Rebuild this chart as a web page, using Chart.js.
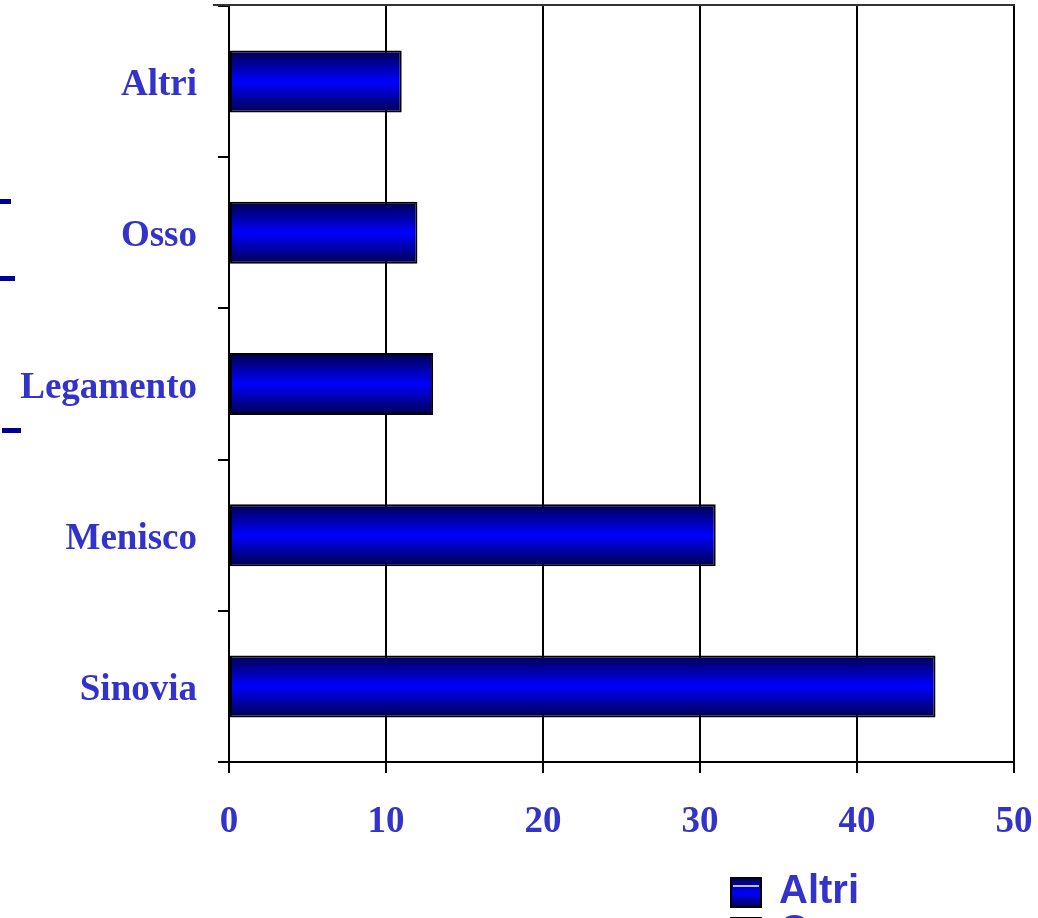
<!DOCTYPE html>
<html>
<head>
<meta charset="utf-8">
<script src="https://cdn.jsdelivr.net/npm/chart.js@4"></script>
<style>
  html, body { margin: 0; padding: 0; background: #ffffff; }
  #c { display: block; }
</style>
</head>
<body>
<canvas id="c" width="1038" height="918"></canvas>
<script>
// Sede della lesione (ordine dall'alto verso il basso)
const categories = ['Altri', 'Osso', 'Legamento', 'Menisco', 'Sinovia'];
const values = [11, 12, 13, 31, 45];
const xTickValues = [0, 10, 20, 30, 40, 50];
const legendLabels = ['Altri', 'Osso'];

const LABEL_BLUE = '#3333cc';
const DARK_BLUE = '#00004d';
const BRIGHT_BLUE = '#0000ff';
const BAR_FRACTION = 0.41;

function barGradient(ctx, top, bottom) {
  const g = ctx.createLinearGradient(0, top, 0, bottom);
  g.addColorStop(0, DARK_BLUE);
  g.addColorStop(0.5, BRIGHT_BLUE);
  g.addColorStop(1, DARK_BLUE);
  return g;
}

// Decorazioni: bordo superiore, trattini a sinistra, legenda verticale
const decorations = {
  id: 'decorations',
  afterDraw(chart) {
    const ctx = chart.ctx;
    const area = chart.chartArea;
    ctx.save();
    // bordo superiore dell'area del grafico
    ctx.strokeStyle = '#333333';
    ctx.lineWidth = 2;
    ctx.beginPath();
    ctx.moveTo(area.left - 16, area.top - 1);
    ctx.lineTo(area.right + 1, area.top - 1);
    ctx.stroke();

    // trattini blu sul bordo sinistro
    ctx.fillStyle = '#000099';
    ctx.fillRect(0, 199, 11, 5);
    ctx.fillRect(0, 276, 15, 5);
    ctx.fillRect(2, 428, 19, 5);

    // legenda
    legendLabels.forEach((label, i) => {
      const y = 877 + i * 40;
      const x = 730;
      ctx.fillStyle = barGradient(ctx, y, y + 31);
      ctx.fillRect(x, y, 32, 31);
      ctx.strokeStyle = '#000000';
      ctx.lineWidth = 2;
      ctx.strokeRect(x + 1, y + 1, 30, 29);
      ctx.strokeStyle = '#ffffff';
      ctx.lineWidth = 1.5;
      ctx.beginPath();
      ctx.moveTo(x + 3, y + 9);
      ctx.lineTo(x + 29, y + 9);
      ctx.stroke();
      ctx.fillStyle = LABEL_BLUE;
      ctx.font = 'bold 40px "Liberation Sans", Arial, sans-serif';
      ctx.textBaseline = 'alphabetic';
      ctx.textAlign = 'left';
      ctx.fillText(label, 779, y + 26);
    });
    ctx.restore();
  }
};

new Chart(document.getElementById('c'), {
  type: 'bar',
  data: {
    labels: categories,
    datasets: [{
      data: values,
      backgroundColor(c) {
        const chart = c.chart;
        const yScale = chart.scales.y;
        if (!chart.chartArea || !yScale || c.dataIndex === undefined) return BRIGHT_BLUE;
        const center = yScale.getPixelForValue(c.dataIndex);
        const half = (yScale.height / categories.length) * BAR_FRACTION / 2;
        return barGradient(chart.ctx, center - half, center + half);
      },
      borderColor: '#000000',
      borderWidth: 2,
      borderSkipped: false,
      categoryPercentage: 1,
      barPercentage: BAR_FRACTION
    }]
  },
  options: {
    indexAxis: 'y',
    responsive: false,
    animation: false,
    layout: { padding: { top: 6, right: 24, left: 0, bottom: 0 } },
    plugins: {
      legend: { display: false },
      tooltip: { enabled: false }
    },
    scales: {
      x: {
        type: 'linear',
        min: 0,
        max: 50,
        afterBuildTicks(scale) {
          scale.ticks = xTickValues.map(v => ({ value: v }));
        },
        afterFit(scale) {
          scale.height = 156;
          scale.paddingLeft = 0;
          scale.paddingRight = 0;
        },
        ticks: {
          color: LABEL_BLUE,
          font: { family: '"Liberation Serif", "Times New Roman", serif', size: 37, weight: 'bold' },
          padding: 27,
          maxRotation: 0
        },
        grid: {
          color: '#000000',
          lineWidth: 2,
          tickLength: 11,
          drawOnChartArea: true,
          drawTicks: true
        },
        border: { color: '#000000', width: 2 }
      },
      y: {
        type: 'category',
        offset: true,
        afterFit(scale) {
          scale.width = 229;
          scale.paddingTop = 0;
          scale.paddingBottom = 0;
        },
        ticks: {
          color: LABEL_BLUE,
          font: { family: '"Liberation Serif", "Times New Roman", serif', size: 37, weight: 'bold' },
          padding: 21,
          labelOffset: 4
        },
        grid: {
          offset: true,
          color: '#000000',
          lineWidth: 2,
          tickLength: 11,
          drawOnChartArea: false,
          drawTicks: true
        },
        border: { color: '#000000', width: 2 }
      }
    }
  },
  plugins: [decorations]
});
</script>
</body>
</html>
